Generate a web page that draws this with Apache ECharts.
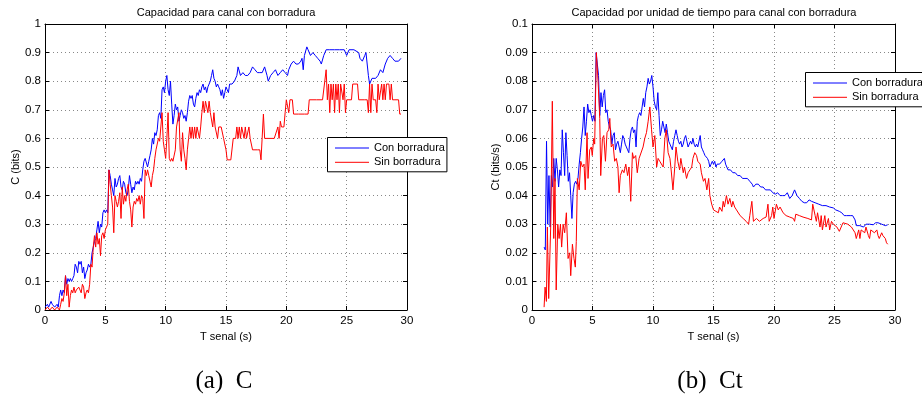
<!DOCTYPE html>
<html>
<head>
<meta charset="utf-8">
<script src="https://cdn.jsdelivr.net/npm/echarts@6/dist/echarts.min.js"></script>
<style>
  html, body { margin: 0; padding: 0; background: #fff; }
  #chart { width: 922px; height: 397px; }
</style>
</head>
<body>
<div id="chart"></div>
<script>
// Capacity of the erasure channel versus signal duration (C) and per unit time (Ct)
const seriesNames = ['Con borradura', 'Sin borradura'];
const xTicks = [0, 5, 10, 15, 20, 25, 30];

// (a) C — with erasure
const tConC = [0.0,0.2,0.3,0.5,0.6,0.8,1.0,1.1,1.2,1.3,1.4,1.5,1.6,1.7,1.8,1.9,2.0,2.1,2.2,2.3,2.4,2.5,2.6,2.7,2.8,2.9,3.0,3.1,3.2,3.3,3.4,3.5,3.6,3.7,3.8,3.9,4.0,4.1,4.2,4.3,4.4,4.5,4.6,4.7,4.8,4.9,5.0,5.1,5.2,5.3,5.4,5.5,5.6,5.7,5.8,5.9,6.0,6.1,6.2,6.3,6.4,6.5,6.6,6.7,6.8,6.9,7.0,7.1,7.2,7.3,7.4,7.5,7.6,7.7,7.8,7.9,8.0,8.1,8.2,8.3,8.4,8.5,8.6,8.7,8.8,8.9,9.0,9.1,9.2,9.3,9.4,9.5,9.6,9.7,9.8,9.9,10.0,10.1,10.2,10.3,10.4,10.5,10.6,10.7,10.8,10.9,11.0,11.1,11.2,11.3,11.4,11.5,11.6,11.7,11.8,11.9,12.0,12.1,12.2,12.3,12.4,12.5,12.6,12.7,12.8,12.9,13.0,13.1,13.2,13.3,13.4,13.5,13.6,13.7,13.8,13.9,14.0,14.1,14.2,14.3,14.4,14.5,14.6,14.7,14.8,14.9,15.0,15.1,15.2,15.3,15.5,15.7,15.9,16.0,16.2,16.4,16.6,16.8,17.0,17.2,17.4,17.6,17.8,18.0,18.2,18.4,18.5,18.7,18.9,19.1,19.3,19.5,19.7,19.9,20.1,20.2,20.4,20.6,20.8,21.0,21.2,21.3,21.4,21.5,21.7,21.8,22.0,22.2,22.4,22.6,22.8,22.9,23.1,23.3,23.6,24.0,24.4,24.8,25.0,25.2,25.6,26.0,26.1,26.3,26.5,26.6,26.8,26.9,27.1,27.4,27.6,27.8,28.0,28.2,28.4,28.6,28.8,29.0,29.3,29.5];
const cCon = [0.01,0.02,0.01,0.03,0.02,0.01,0.02,0.01,0.05,0.07,0.05,0.07,0.06,0.12,0.09,0.11,0.10,0.11,0.10,0.11,0.12,0.16,0.15,0.13,0.17,0.16,0.17,0.13,0.15,0.11,0.13,0.14,0.16,0.15,0.16,0.20,0.22,0.24,0.25,0.28,0.31,0.27,0.30,0.29,0.34,0.35,0.34,0.35,0.34,0.49,0.47,0.44,0.42,0.40,0.46,0.43,0.44,0.46,0.47,0.43,0.42,0.45,0.44,0.41,0.40,0.42,0.47,0.44,0.41,0.43,0.42,0.45,0.44,0.45,0.44,0.46,0.45,0.49,0.52,0.53,0.53,0.50,0.52,0.54,0.56,0.60,0.58,0.62,0.61,0.63,0.68,0.69,0.67,0.77,0.78,0.76,0.80,0.82,0.77,0.75,0.80,0.72,0.65,0.68,0.72,0.70,0.71,0.66,0.68,0.70,0.69,0.67,0.68,0.66,0.69,0.73,0.75,0.74,0.75,0.72,0.71,0.74,0.76,0.75,0.77,0.76,0.78,0.79,0.77,0.78,0.76,0.78,0.79,0.80,0.82,0.84,0.81,0.80,0.78,0.79,0.78,0.77,0.75,0.77,0.74,0.76,0.78,0.77,0.76,0.79,0.79,0.80,0.82,0.85,0.82,0.83,0.82,0.82,0.83,0.85,0.84,0.83,0.83,0.83,0.85,0.82,0.80,0.82,0.83,0.84,0.82,0.83,0.84,0.83,0.82,0.84,0.86,0.87,0.86,0.86,0.87,0.88,0.84,0.89,0.92,0.91,0.89,0.90,0.89,0.88,0.87,0.86,0.89,0.91,0.91,0.91,0.91,0.91,0.89,0.91,0.91,0.90,0.88,0.87,0.89,0.90,0.82,0.79,0.81,0.81,0.82,0.84,0.83,0.86,0.88,0.89,0.88,0.87,0.87,0.88];

// (a) C — without erasure
const tSinC = [0.0,0.2,0.4,0.6,0.8,1.0,1.2,1.3,1.4,1.5,1.6,1.7,1.8,1.9,2.0,2.1,2.2,2.3,2.4,2.5,2.6,2.7,2.8,2.9,3.0,3.1,3.2,3.3,3.4,3.5,3.6,3.7,3.8,3.9,4.0,4.1,4.2,4.3,4.4,4.5,4.6,4.7,4.8,4.9,5.0,5.1,5.2,5.3,5.4,5.5,5.6,5.7,5.8,5.9,6.0,6.1,6.2,6.3,6.4,6.5,6.6,6.7,6.8,6.9,7.0,7.1,7.2,7.3,7.4,7.5,7.6,7.7,7.8,7.9,8.0,8.1,8.2,8.3,8.4,8.5,8.6,8.7,8.8,8.9,9.0,9.1,9.2,9.3,9.4,9.5,9.6,9.7,9.8,9.9,10.0,10.1,10.2,10.3,10.4,10.5,10.6,10.8,10.9,11.0,11.1,11.2,11.3,11.4,11.5,11.6,11.7,11.8,11.9,12.0,12.1,12.2,12.3,12.4,12.5,12.6,12.7,12.8,12.9,13.0,13.1,13.2,13.3,13.4,13.5,13.6,13.7,13.8,13.9,14.0,14.1,14.2,14.3,14.4,14.6,14.8,15.0,15.1,15.4,15.6,15.8,15.9,16.0,16.1,16.2,16.3,16.5,16.6,16.7,16.9,17.0,17.2,17.6,17.8,17.9,18.1,18.2,18.6,19.0,19.3,19.4,19.5,19.6,19.8,19.9,20.0,20.1,20.2,20.3,20.5,20.6,21.0,21.5,21.8,21.9,22.5,23.0,23.1,23.3,23.4,23.5,23.6,23.7,23.8,23.9,24.0,24.1,24.2,24.3,24.4,24.5,24.7,24.8,24.9,25.0,25.4,25.5,25.9,26.0,26.5,26.7,26.8,26.9,27.0,27.1,27.2,27.4,27.5,27.6,27.7,27.9,28.0,28.1,28.2,28.3,28.5,28.6,28.7,28.8,29.0,29.3,29.4,29.5];
const cSin = [0.00,0.01,0.00,0.01,0.00,0.01,0.00,0.02,0.04,0.03,0.06,0.12,0.05,0.09,0.01,0.05,0.07,0.06,0.08,0.06,0.07,0.07,0.08,0.07,0.06,0.09,0.08,0.04,0.06,0.07,0.06,0.09,0.16,0.15,0.22,0.26,0.22,0.27,0.23,0.25,0.19,0.26,0.27,0.25,0.28,0.29,0.30,0.49,0.44,0.40,0.36,0.27,0.40,0.38,0.36,0.38,0.41,0.32,0.43,0.37,0.40,0.38,0.42,0.44,0.38,0.35,0.29,0.36,0.38,0.37,0.39,0.38,0.40,0.37,0.40,0.39,0.32,0.49,0.47,0.49,0.47,0.45,0.43,0.47,0.49,0.53,0.56,0.56,0.60,0.59,0.64,0.69,0.59,0.56,0.53,0.60,0.69,0.53,0.52,0.53,0.52,0.56,0.64,0.64,0.69,0.56,0.52,0.62,0.56,0.53,0.49,0.56,0.60,0.64,0.60,0.64,0.60,0.64,0.60,0.64,0.64,0.60,0.64,0.69,0.73,0.69,0.73,0.73,0.69,0.73,0.69,0.69,0.64,0.69,0.64,0.64,0.60,0.64,0.64,0.60,0.56,0.525,0.525,0.60,0.60,0.64,0.60,0.64,0.60,0.64,0.60,0.64,0.60,0.64,0.60,0.56,0.56,0.56,0.525,0.685,0.60,0.60,0.60,0.64,0.60,0.66,0.64,0.64,0.69,0.735,0.735,0.69,0.735,0.735,0.685,0.685,0.685,0.685,0.735,0.735,0.735,0.735,0.84,0.735,0.79,0.69,0.79,0.735,0.79,0.69,0.79,0.735,0.79,0.69,0.79,0.735,0.79,0.69,0.735,0.735,0.79,0.79,0.735,0.735,0.735,0.69,0.79,0.69,0.79,0.735,0.735,0.69,0.79,0.735,0.79,0.735,0.79,0.735,0.79,0.79,0.735,0.79,0.735,0.735,0.735,0.685,0.685];

// (b) Ct — with erasure
const tConCt = [1.0,1.1,1.2,1.3,1.4,1.5,1.6,1.7,1.8,1.9,2.0,2.1,2.2,2.3,2.4,2.5,2.6,2.7,2.8,2.9,3.0,3.1,3.2,3.3,3.4,3.5,3.6,3.7,3.8,3.9,4.0,4.1,4.2,4.3,4.4,4.5,4.6,4.7,4.8,4.9,5.0,5.1,5.2,5.3,5.4,5.5,5.6,5.7,5.8,5.9,6.0,6.1,6.2,6.3,6.4,6.5,6.6,6.7,6.8,6.9,7.0,7.1,7.2,7.3,7.4,7.5,7.6,7.7,7.8,7.9,8.0,8.1,8.2,8.3,8.4,8.5,8.6,8.7,8.8,8.9,9.0,9.1,9.2,9.3,9.4,9.5,9.6,9.7,9.8,9.9,10.0,10.1,10.2,10.3,10.4,10.5,10.6,10.7,10.8,10.9,11.0,11.1,11.2,11.3,11.4,11.5,11.6,11.7,11.8,11.9,12.0,12.1,12.2,12.3,12.4,12.5,12.6,12.7,12.8,12.9,13.0,13.1,13.2,13.3,13.4,13.5,13.6,13.7,13.8,13.9,14.0,14.1,14.2,14.3,14.4,14.5,14.6,14.7,14.8,14.9,15.0,15.1,15.2,15.3,15.5,15.7,15.9,16.0,16.2,16.4,16.6,16.8,17.0,17.2,17.4,17.6,17.8,18.0,18.2,18.3,18.5,18.7,18.9,19.1,19.3,19.5,19.7,19.9,20.1,20.3,20.5,20.7,20.9,21.1,21.3,21.5,21.7,21.9,22.1,22.3,22.5,22.7,22.9,23.1,23.4,23.7,24.0,24.3,24.6,24.9,25.1,25.4,25.6,25.8,26.0,26.3,26.5,26.7,26.8,27.1,27.4,27.6,27.9,28.2,28.4,28.6,28.9,29.2,29.4];
const ctCon = [0.022,0.021,0.059,0.030,0.047,0.029,0.047,0.043,0.053,0.045,0.053,0.049,0.043,0.049,0.047,0.063,0.055,0.047,0.062,0.054,0.045,0.048,0.040,0.032,0.041,0.044,0.045,0.044,0.046,0.051,0.055,0.060,0.064,0.071,0.061,0.066,0.072,0.069,0.070,0.068,0.066,0.068,0.066,0.090,0.086,0.082,0.068,0.076,0.071,0.075,0.077,0.069,0.070,0.066,0.064,0.063,0.058,0.061,0.062,0.056,0.058,0.059,0.057,0.055,0.058,0.061,0.060,0.058,0.057,0.056,0.055,0.060,0.063,0.064,0.062,0.063,0.057,0.066,0.068,0.069,0.068,0.071,0.074,0.071,0.076,0.078,0.081,0.079,0.080,0.082,0.078,0.073,0.071,0.070,0.076,0.068,0.061,0.063,0.066,0.064,0.062,0.065,0.062,0.059,0.058,0.058,0.056,0.059,0.061,0.063,0.061,0.059,0.058,0.059,0.057,0.058,0.060,0.061,0.059,0.057,0.058,0.059,0.058,0.060,0.058,0.057,0.058,0.057,0.059,0.061,0.057,0.056,0.055,0.054,0.054,0.053,0.052,0.050,0.051,0.052,0.051,0.052,0.050,0.051,0.051,0.052,0.053,0.051,0.049,0.049,0.048,0.048,0.047,0.047,0.046,0.046,0.046,0.045,0.044,0.043,0.044,0.044,0.043,0.043,0.042,0.042,0.042,0.041,0.0405,0.041,0.040,0.040,0.040,0.041,0.039,0.040,0.042,0.040,0.039,0.038,0.0375,0.0375,0.0385,0.038,0.0375,0.037,0.0365,0.0365,0.036,0.0357,0.035,0.0345,0.034,0.033,0.033,0.033,0.033,0.0315,0.0295,0.0295,0.029,0.030,0.030,0.0298,0.0305,0.0305,0.030,0.0295,0.0298];

// (b) Ct — without erasure
const tSinCt = [1.0,1.08,1.19,1.27,1.38,1.55,1.68,1.8,1.9,2.0,2.13,2.24,2.35,2.45,2.57,2.7,2.84,2.98,3.12,3.2,3.34,3.47,3.58,3.66,3.75,3.9,4.03,4.17,4.3,4.4,4.55,4.63,4.77,4.9,4.98,5.1,5.18,5.32,5.46,5.6,5.68,5.82,5.93,6.07,6.2,6.34,6.43,6.55,6.7,6.83,6.97,7.1,7.2,7.3,7.47,7.6,7.75,7.9,8.02,8.16,8.3,8.4,8.57,8.7,8.85,9.0,9.18,9.32,9.46,9.6,9.74,9.88,10.0,10.15,10.3,10.42,10.56,10.7,10.84,10.98,11.1,11.25,11.4,11.5,11.65,11.8,11.9,12.05,12.2,12.3,12.5,12.6,12.77,12.9,13.05,13.2,13.3,13.45,13.6,13.7,13.9,14.0,14.17,14.3,14.45,14.6,14.7,14.85,15.0,15.2,15.4,15.5,15.7,15.8,15.9,16.07,16.2,16.35,16.5,16.6,16.75,16.9,17.2,17.45,17.7,17.9,18.0,18.17,18.3,18.55,18.8,19.1,19.35,19.5,19.6,19.8,19.9,20.0,20.2,20.35,20.5,20.6,20.75,21.0,21.3,21.6,21.7,21.8,22.1,22.4,22.8,23.1,23.2,23.4,23.5,23.6,23.8,23.9,24.0,24.2,24.3,24.5,24.6,24.75,24.9,25.2,25.4,25.7,26.1,26.4,26.7,26.8,27.0,27.1,27.2,27.5,27.6,27.8,27.9,28.0,28.3,28.5,28.6,28.7,28.9,29.0,29.2,29.3,29.4];
const ctSin = [0.001,0.008,0.003,0.029,0.004,0.030,0.073,0.025,0.046,0.007,0.030,0.025,0.030,0.022,0.030,0.027,0.034,0.018,0.020,0.012,0.023,0.018,0.015,0.024,0.046,0.042,0.052,0.050,0.051,0.042,0.062,0.046,0.056,0.057,0.054,0.060,0.058,0.090,0.080,0.067,0.047,0.060,0.061,0.052,0.062,0.063,0.067,0.057,0.058,0.052,0.053,0.050,0.041,0.047,0.049,0.048,0.051,0.047,0.050,0.038,0.055,0.053,0.054,0.048,0.053,0.053,0.057,0.060,0.062,0.066,0.071,0.063,0.057,0.061,0.050,0.053,0.052,0.052,0.050,0.060,0.063,0.055,0.053,0.049,0.042,0.050,0.057,0.052,0.049,0.053,0.048,0.050,0.046,0.048,0.049,0.050,0.053,0.055,0.054,0.052,0.051,0.048,0.045,0.046,0.042,0.046,0.040,0.037,0.035,0.0345,0.034,0.036,0.0345,0.038,0.036,0.040,0.037,0.039,0.036,0.038,0.036,0.035,0.033,0.032,0.031,0.030,0.033,0.038,0.031,0.032,0.031,0.032,0.0325,0.037,0.031,0.033,0.036,0.032,0.037,0.035,0.036,0.0365,0.034,0.033,0.0325,0.032,0.031,0.0335,0.033,0.0325,0.032,0.0315,0.037,0.033,0.031,0.034,0.029,0.033,0.028,0.033,0.029,0.032,0.028,0.031,0.030,0.029,0.0275,0.0305,0.030,0.029,0.027,0.025,0.028,0.025,0.028,0.027,0.029,0.026,0.025,0.028,0.027,0.028,0.026,0.025,0.027,0.026,0.025,0.0235,0.023];

const pairs = (xs, ys) => xs.map((x, i) => [x, ys[i]]);

const FONT = 'Liberation Sans, Arial, Helvetica, sans-serif';
const SERIF = 'Liberation Serif, Times New Roman, serif';
const BLUE = '#0000ff';
const RED = '#ff0000';

const grids = [
  { left: 45, top: 24, width: 362, height: 286 },
  { left: 532, top: 24, width: 363, height: 286 }
];

function xAxes(gridIndex) {
  const base = {
    gridIndex, type: 'value', min: 0, max: 30, interval: 5,
    axisLine: { show: true, onZero: false, lineStyle: { color: '#000', width: 1 } },
    axisTick: { show: true, inside: true, length: 4, lineStyle: { color: '#000' } }
  };
  return [
    Object.assign({}, base, {
      position: 'bottom',
      name: 'T senal (s)', nameLocation: 'middle', nameGap: 12,
      nameTextStyle: { fontFamily: FONT, fontSize: 11, color: '#000' },
      axisLabel: { fontFamily: FONT, fontSize: 11.5, color: '#000', margin: 5 },
      splitLine: { show: true, lineStyle: { color: '#888', width: 1, type: [1, 3] } }
    }),
    Object.assign({}, base, {
      position: 'top', axisLabel: { show: false }, splitLine: { show: false }
    })
  ];
}

function yAxes(gridIndex, max, step, name, gap, digits) {
  const base = {
    gridIndex, type: 'value', min: 0, max, interval: step,
    axisLine: { show: true, onZero: false, lineStyle: { color: '#000', width: 1 } },
    axisTick: { show: true, inside: true, length: 4, lineStyle: { color: '#000' } }
  };
  return [
    Object.assign({}, base, {
      position: 'left',
      name, nameLocation: 'middle', nameGap: gap,
      nameTextStyle: { fontFamily: FONT, fontSize: 11, color: '#000' },
      axisLabel: {
        fontFamily: FONT, fontSize: 11.5, color: '#000', margin: 4,
        formatter: v => String(+v.toFixed(digits))
      },
      splitLine: { show: true, lineStyle: { color: '#888', width: 1, type: [1, 3] } }
    }),
    Object.assign({}, base, {
      position: 'right', axisLabel: { show: false }, splitLine: { show: false }
    })
  ];
}

function lineSeries(name, color, xIdx, yIdx, data) {
  return {
    name, type: 'line', xAxisIndex: xIdx, yAxisIndex: yIdx,
    data, symbol: 'none', animation: false,
    lineStyle: { color, width: 1 }, itemStyle: { color }
  };
}

function legendAt(left, top) {
  return {
    data: seriesNames, orient: 'vertical', left, top,
    backgroundColor: '#fff', borderColor: '#000', borderWidth: 1,
    padding: [5, 2, 4, 7], itemGap: 3.3, itemWidth: 34, itemHeight: 12,
    itemStyle: { opacity: 0 },
    lineStyle: { width: 1 },
    textStyle: { fontFamily: FONT, fontSize: 11, color: '#000' }
  };
}

const chart = echarts.init(document.getElementById('chart'), null, { renderer: 'canvas' });
chart.setOption({
  backgroundColor: '#fff',
  animation: false,
  grid: grids,
  xAxis: [...xAxes(0), ...xAxes(1)],
  yAxis: [...yAxes(0, 1, 0.1, 'C (bits)', 22, 1), ...yAxes(1, 0.1, 0.01, 'Ct (bits/s)', 26, 2)],
  legend: [legendAt(327.5, 137.5), legendAt(805.5, 72.5)],
  series: [
    lineSeries(seriesNames[0], BLUE, 0, 0, pairs(tConC, cCon)),
    lineSeries(seriesNames[1], RED, 0, 0, pairs(tSinC, cSin)),
    lineSeries(seriesNames[0], BLUE, 2, 2, pairs(tConCt, ctCon)),
    lineSeries(seriesNames[1], RED, 2, 2, pairs(tSinCt, ctSin))
  ],
  graphic: [
    { type: 'text', x: 226, y: 13, style: { text: 'Capacidad para canal con borradura', font: '11px ' + FONT, fill: '#000', textAlign: 'center', textVerticalAlign: 'middle' } },
    { type: 'text', x: 714, y: 13, style: { text: 'Capacidad por unidad de tiempo para canal con borradura', font: '11px ' + FONT, fill: '#000', textAlign: 'center', textVerticalAlign: 'middle' } },
    { type: 'text', x: 224, y: 381, style: { text: '(a)\u2002C', font: '25px ' + SERIF, fill: '#000', textAlign: 'center', textVerticalAlign: 'middle' } },
    { type: 'text', x: 710, y: 381, style: { text: '(b)\u2002Ct', font: '25px ' + SERIF, fill: '#000', textAlign: 'center', textVerticalAlign: 'middle' } }
  ]
});
</script>
</body>
</html>
